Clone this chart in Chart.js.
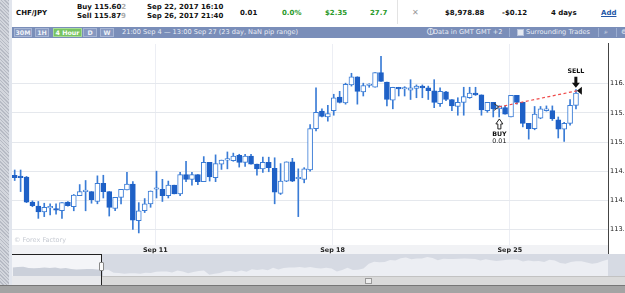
<!DOCTYPE html>
<html><head><meta charset="utf-8">
<script src="https://cdn.jsdelivr.net/npm/chart.js@4/dist/chart.umd.min.js"></script>
<style>
body{margin:0;width:625px;height:293px;overflow:hidden;background:#fff;font-family:"DejaVu Sans",Verdana,sans-serif;position:relative}
.a{position:absolute;white-space:nowrap}
#stripe{left:0;top:0;width:9px;height:293px;background:repeating-linear-gradient(45deg,#b6bac4 0 1px,#d3d6dd 1px 2.5px)}
#stripe2{left:9px;top:0;width:3px;height:293px;background:#e1e5ed}
.h{font-size:7px;font-weight:bold;color:#111;line-height:8px}
.g{color:#2a9a2a}
.lt{color:#aaa}
#tb{left:12px;top:27px;width:613px;height:11px;background:#7a8eb9}
.btn{position:absolute;top:1px;height:7px;border:1px solid #a6b5d4;background:#8698c0;color:#eef2f8;font-size:6.3px;font-weight:bold;line-height:7px;text-align:center}
.tt{font-size:6.6px;color:#e9edf5;line-height:11px;top:0}
.sep{position:absolute;top:1px;width:1px;height:9px;background:#9badd0}
</style></head>
<body>
<div class="a" id="stripe"></div><div class="a" id="stripe2"></div>
<!-- header -->
<div class="a h" style="left:16px;top:9px">CHF/JPY</div>
<div class="a h" style="left:77px;top:3px">Buy 115.60<span class="lt">2</span></div>
<div class="a h" style="left:77px;top:12px">Sell 115.87<span class="lt">9</span></div>
<div class="a h" style="left:147px;top:3px">Sep 22, 2017 16:10</div>
<div class="a h" style="left:147px;top:12px">Sep 26, 2017 21:40</div>
<div class="a h" style="left:240px;top:9px">0.01</div>
<div class="a h g" style="left:282px;top:9px">0.0%</div>
<div class="a h g" style="left:325px;top:9px">$2.35</div>
<div class="a h g" style="left:370px;top:9px">27.7</div>
<div class="a" style="left:397px;top:0;width:1px;height:24px;background:#e3e3e3"></div>
<div class="a" style="left:412px;top:8px;font-size:8px;color:#999;line-height:9px">✕</div>
<div class="a h" style="left:445px;top:9px">$8,978.88</div>
<div class="a h" style="left:502px;top:9px">-$0.12</div>
<div class="a h" style="left:551px;top:9px">4 days</div>
<div class="a h" style="left:601px;top:9px;color:#2456a6;text-decoration:underline">Add</div>
<!-- toolbar -->
<div class="a" id="tb">
  <div class="btn" style="left:2px;width:16px">30M</div>
  <div class="btn" style="left:23px;width:12px">1H</div>
  <div class="btn" style="left:41px;width:27px;background:#78c463;border-color:#a9dc98;color:#fff">4 Hour</div>
  <div class="btn" style="left:71px;width:12px">D</div>
  <div class="btn" style="left:88px;width:12px">W</div>
  <div class="a tt" style="left:110px">21:00 Sep 4 — 13:00 Sep 27 (23 day, NaN pip range)</div>
  <div class="a tt" style="left:415px;font-weight:bold">ⓘ</div>
  <div class="a tt" style="left:421px">Data in GMT GMT +2</div>
  <div class="sep" style="left:497px"></div>
  <div class="a" style="left:505px;top:2px;width:5px;height:5px;background:#e6eaf2;border:1px solid #b7c3dc"></div>
  <div class="a tt" style="left:514px">Surrounding Trades</div>
  <div class="sep" style="left:586px"></div>
  <div class="a tt" style="left:592px;font-size:7px">⌕</div>
  <div class="sep" style="left:604px"></div>
  <div class="a tt" style="left:609px">⚙</div>
</div>
<!-- main chart -->
<canvas id="c" width="613" height="217" class="a" style="left:12px;top:38px"></canvas>
<div class="a" style="left:14px;top:236px;font-size:6.5px;color:#c6cad2">© Forex Factory</div>
<!-- navigator -->
<div class="a" style="left:12px;top:254px;width:89px;height:22px;background:#f4f5f8"></div>
<div class="a" style="left:101px;top:254px;width:524px;height:22px;background:#d6dae3"></div>
<canvas id="n" width="613" height="22" class="a" style="left:12px;top:254px"></canvas>
<div class="a" style="left:12px;top:254px;width:89px;height:1px;background:#222"></div>
<div class="a" style="left:12px;top:276px;width:89px;height:9px;background:#e8e9ec"></div>
<div class="a" style="left:101px;top:276px;width:524px;height:8px;background:#dadada;border-top:1px solid #c2c2c2"></div>
<div class="a" style="left:101px;top:254px;width:1px;height:31px;background:#222"></div>
<div class="a" style="left:99px;top:262px;width:3px;height:7px;background:#fafafa;border:1px solid #888;border-radius:1px"></div>
<div class="a" style="left:365px;top:278px;width:5px;height:4px;border:1px solid #999;background:#eee"></div>
<div class="a" style="left:0;top:285px;width:625px;height:8px;background:#a4a4a4;border-top:1px solid #777"></div>
<script>
// ---- data (4-hour candles, Sep 4 21:00 -> Sep 27) ----
const opens  = [114.43,114.41,114.40,113.97,113.90,113.80,113.87,113.86,113.82,113.97,113.89,114.08,114.15,114.15,113.98,114.29,114.15,113.86,114.05,114.18,114.28,113.65,113.82,113.94,114.19,
                114.19,114.08,114.26,114.11,114.44,114.36,114.44,114.32,114.65,114.39,114.62,114.69,114.68,114.77,114.65,114.76,114.62,114.54,114.65,114.55,114.12,114.33,114.66,114.37,114.36,
                114.52,115.23,115.53,115.43,115.54,115.77,115.67,115.98,116.12,115.86,115.97,115.94,116.19,116.03,115.72,115.94,115.91,115.89,115.92,115.96,115.93,115.88,115.66,115.86,115.73,
                115.61,115.68,115.76,115.84,115.81,115.54,115.68,115.57,115.59,115.43,115.80,115.68,115.32,115.23,115.41,115.54,115.54,115.38,115.22,115.32,115.63];
const highs  = [114.52,114.52,114.41,113.99,113.98,113.95,113.94,113.94,113.96,113.98,114.10,114.27,114.34,114.15,114.42,114.43,114.15,114.05,114.19,114.48,114.32,113.96,114.03,114.16,114.50,
                114.36,114.33,114.26,114.48,114.67,114.48,114.44,114.75,114.65,114.78,114.69,114.83,114.81,114.79,114.79,114.79,114.62,114.74,114.74,114.73,114.63,114.66,114.72,114.54,114.56,
                115.30,115.93,115.57,115.63,115.82,115.87,116.01,116.18,116.12,116.01,116.00,116.19,116.47,116.03,115.94,115.94,115.95,116.07,115.98,115.98,115.96,116.07,115.93,115.87,115.73,
                115.76,115.94,115.94,115.94,115.81,115.68,115.68,115.62,115.62,115.80,115.80,115.68,115.32,115.61,115.61,115.62,115.62,115.43,115.34,115.73,115.90];
const lows   = [114.34,114.15,113.96,113.89,113.69,113.72,113.75,113.76,113.69,113.90,113.82,114.08,113.82,113.95,113.94,114.04,113.73,113.82,113.94,114.18,113.50,113.44,113.79,113.88,114.04,
                113.98,114.04,114.11,114.08,114.32,114.26,114.27,114.32,114.33,114.32,114.53,114.54,114.67,114.57,114.58,114.62,114.43,114.48,114.49,113.94,114.10,114.32,114.32,113.72,114.30,
                114.50,115.19,115.43,115.36,115.46,115.67,115.65,115.96,115.65,115.79,115.94,115.94,116.04,115.62,115.57,115.79,115.79,115.73,115.76,115.76,115.73,115.59,115.61,115.71,115.54,
                115.46,115.46,115.75,115.80,115.46,115.51,115.43,115.43,115.48,115.43,115.65,115.26,115.05,115.21,115.40,115.53,115.37,115.07,115.01,115.29,115.57];
const closes = [114.39,114.39,113.97,113.91,113.80,113.88,113.87,113.83,113.96,113.91,114.09,114.15,114.15,114.01,114.29,114.15,113.88,114.05,114.19,114.28,113.66,113.82,113.94,114.16,114.19,
                114.08,114.26,114.11,114.44,114.36,114.44,114.32,114.65,114.40,114.63,114.69,114.69,114.76,114.65,114.76,114.62,114.54,114.65,114.56,114.14,114.33,114.66,114.33,114.37,114.54,
                115.23,115.51,115.44,115.49,115.76,115.68,115.99,116.12,115.87,115.97,115.97,116.19,116.04,115.73,115.94,115.91,115.91,115.93,115.96,115.93,115.88,115.68,115.87,115.73,115.62,
                115.68,115.78,115.84,115.81,115.55,115.68,115.57,115.62,115.48,115.80,115.68,115.32,115.23,115.48,115.57,115.57,115.40,115.22,115.32,115.63,115.84];
// navigator: earlier history shown left of the selected window
const navEarly = [114.70,114.77,114.80,114.63,114.58,114.63,114.70,114.63,114.70,114.56,114.63,114.49,114.42,114.45,114.49,114.49,114.42];
const xTickPos    = [23.8, 53.8, 83.8];
const xTickLabels = ['Sep 11', 'Sep 18', 'Sep 25'];
const yTicks      = [113.5, 114.0, 114.5, 115.0, 115.5, 116.0];
const tradeX      = [81.95, 95.15];      // buy / sell time, in candle units
const tradePrice  = [115.602, 115.879];
const tradeSize   = '0.01';

const UP_FILL = '#ffffff', DN_FILL = '#1e60c6', EDGE = '#3a7cd6';
const idx = closes.map((_, i) => i);
const isUp = idx.map(i => closes[i] >= opens[i]);

const bgPlugin = {
  id: 'bg',
  beforeDraw(ch) {
    const {ctx, chartArea: a, width, height} = ch;
    ctx.save();
    ctx.fillStyle = '#fff'; ctx.fillRect(0, 0, width, height);
    ctx.fillStyle = '#f1f2f5'; ctx.fillRect(0, a.bottom, a.right, height - a.bottom);
    ctx.restore();
  },
  afterDraw(ch) {
    const {ctx, chartArea: a, height} = ch;
    ctx.save();
    ctx.strokeStyle = '#444'; ctx.lineWidth = 1;
    ctx.beginPath(); ctx.moveTo(a.right + 0.5, a.bottom); ctx.lineTo(a.right + 0.5, height); ctx.stroke();
    ctx.restore();
  }
};

const tradePlugin = {
  id: 'trade',
  afterDatasetsDraw(ch) {
    const {ctx, scales: {x, y}} = ch;
    const bx = x.getPixelForValue(tradeX[0]), by = y.getPixelForValue(tradePrice[0]);
    const sx = x.getPixelForValue(tradeX[1]), sy = y.getPixelForValue(tradePrice[1]);
    ctx.save();
    // buy marker ">"
    ctx.strokeStyle = '#333'; ctx.lineWidth = 1;
    ctx.beginPath(); ctx.moveTo(bx - 5, by - 3.5); ctx.lineTo(bx, by); ctx.lineTo(bx - 5, by + 3.5); ctx.stroke();
    // sell marker filled "◀"
    ctx.fillStyle = '#111';
    ctx.beginPath(); ctx.moveTo(sx, sy); ctx.lineTo(sx + 5, sy - 4); ctx.lineTo(sx + 5, sy + 4); ctx.closePath(); ctx.fill();
    // buy hollow up-arrow
    const ax = bx + 0.5, t = by + 12;
    ctx.fillStyle = '#fff'; ctx.strokeStyle = '#222';
    ctx.beginPath();
    ctx.moveTo(ax, t); ctx.lineTo(ax + 3.5, t + 5); ctx.lineTo(ax + 1.5, t + 5); ctx.lineTo(ax + 1.5, t + 10);
    ctx.lineTo(ax - 1.5, t + 10); ctx.lineTo(ax - 1.5, t + 5); ctx.lineTo(ax - 3.5, t + 5); ctx.closePath();
    ctx.fill(); ctx.stroke();
    ctx.fillStyle = '#111'; ctx.textAlign = 'center'; ctx.textBaseline = 'middle';
    ctx.font = 'bold 6.3px "DejaVu Sans"'; ctx.fillText('BUY', ax, by + 27);
    ctx.font = '6.3px "DejaVu Sans"'; ctx.fillText(tradeSize, ax, by + 34);
    // sell filled down-arrow
    const cx = sx - 1, b = sy - 3;
    ctx.beginPath();
    ctx.moveTo(cx, b); ctx.lineTo(cx + 4, b - 5); ctx.lineTo(cx + 1.5, b - 5); ctx.lineTo(cx + 1.5, b - 11);
    ctx.lineTo(cx - 1.5, b - 11); ctx.lineTo(cx - 1.5, b - 5); ctx.lineTo(cx - 4, b - 5); ctx.closePath();
    ctx.fill();
    ctx.font = 'bold 6.3px "DejaVu Sans"'; ctx.fillText('SELL', cx, sy - 19);
    ctx.restore();
  }
};

new Chart(document.getElementById('c'), {
  type: 'bar',
  data: {
    datasets: [
      { label: 'wick', data: idx.map(i => ({x: i, y: [lows[i], highs[i]]})),
        backgroundColor: EDGE, barThickness: 1, grouped: false, order: 3, minBarLength: 1 },
      { label: 'body', data: idx.map(i => ({x: i, y: [opens[i], closes[i]]})),
        backgroundColor: idx.map(i => isUp[i] ? UP_FILL : DN_FILL),
        borderColor: idx.map(i => isUp[i] ? EDGE : DN_FILL),
        borderWidth: 1, borderSkipped: false, barThickness: 5, grouped: false, order: 2, minBarLength: 1.5 },
      { type: 'line', label: 'trade', data: tradeX.map((v, i) => ({x: v, y: tradePrice[i]})),
        borderColor: '#ef4b4b', borderWidth: 1.2, borderDash: [3, 2.5], pointRadius: 0, order: 1 }
    ]
  },
  options: {
    responsive: false, animation: false, devicePixelRatio: 1,
    layout: {padding: 0},
    plugins: {legend: {display: false}, tooltip: {enabled: false}},
    scales: {
      x: {
        type: 'linear', min: -0.457, max: 100.42, offset: false,
        afterBuildTicks: ax => { ax.ticks = xTickPos.map(v => ({value: v})); },
        afterFit: ax => { ax.height = 10; },
        ticks: {autoSkip: false, maxRotation: 0, padding: 2, color: '#222',
                font: {family: 'DejaVu Sans', size: 6.4, weight: 'bold'},
                callback: (v, i) => xTickLabels[i]},
        grid: {color: '#eceef4', drawTicks: false, offset: false},
        border: {display: false}
      },
      y: {
        position: 'right', min: 113.233, max: 116.683,
        afterBuildTicks: ax => { ax.ticks = yTicks.map(v => ({value: v})); },
        afterFit: ax => { ax.width = 17; },
        ticks: {padding: 2, color: '#222', font: {family: 'DejaVu Sans', size: 6.6},
                callback: v => v.toFixed(2)},
        grid: {color: '#e5e8ed', drawTicks: false},
        border: {display: true, color: '#444', width: 1}
      }
    }
  },
  plugins: [bgPlugin, tradePlugin]
});

new Chart(document.getElementById('n'), {
  type: 'line',
  data: {
    datasets: [
      { data: navEarly.map((v, i) => ({x: i - navEarly.length, y: v})).concat([{x: 0, y: closes[0]}]),
        borderWidth: 0, pointRadius: 0, fill: 'start', backgroundColor: '#cbd0da' },
      { data: idx.map(i => ({x: i, y: closes[i]})),
        borderWidth: 0, pointRadius: 0, fill: 'start', backgroundColor: '#eceef3' }
    ]
  },
  options: {
    responsive: false, animation: false, devicePixelRatio: 1,
    layout: {padding: 0},
    plugins: {legend: {display: false}, tooltip: {enabled: false}},
    scales: {
      x: {type: 'linear', min: -17.12, max: 98.2, display: false},
      y: {min: 113.5, max: 116.6, display: false}
    }
  }
});
</script>
</body></html>
